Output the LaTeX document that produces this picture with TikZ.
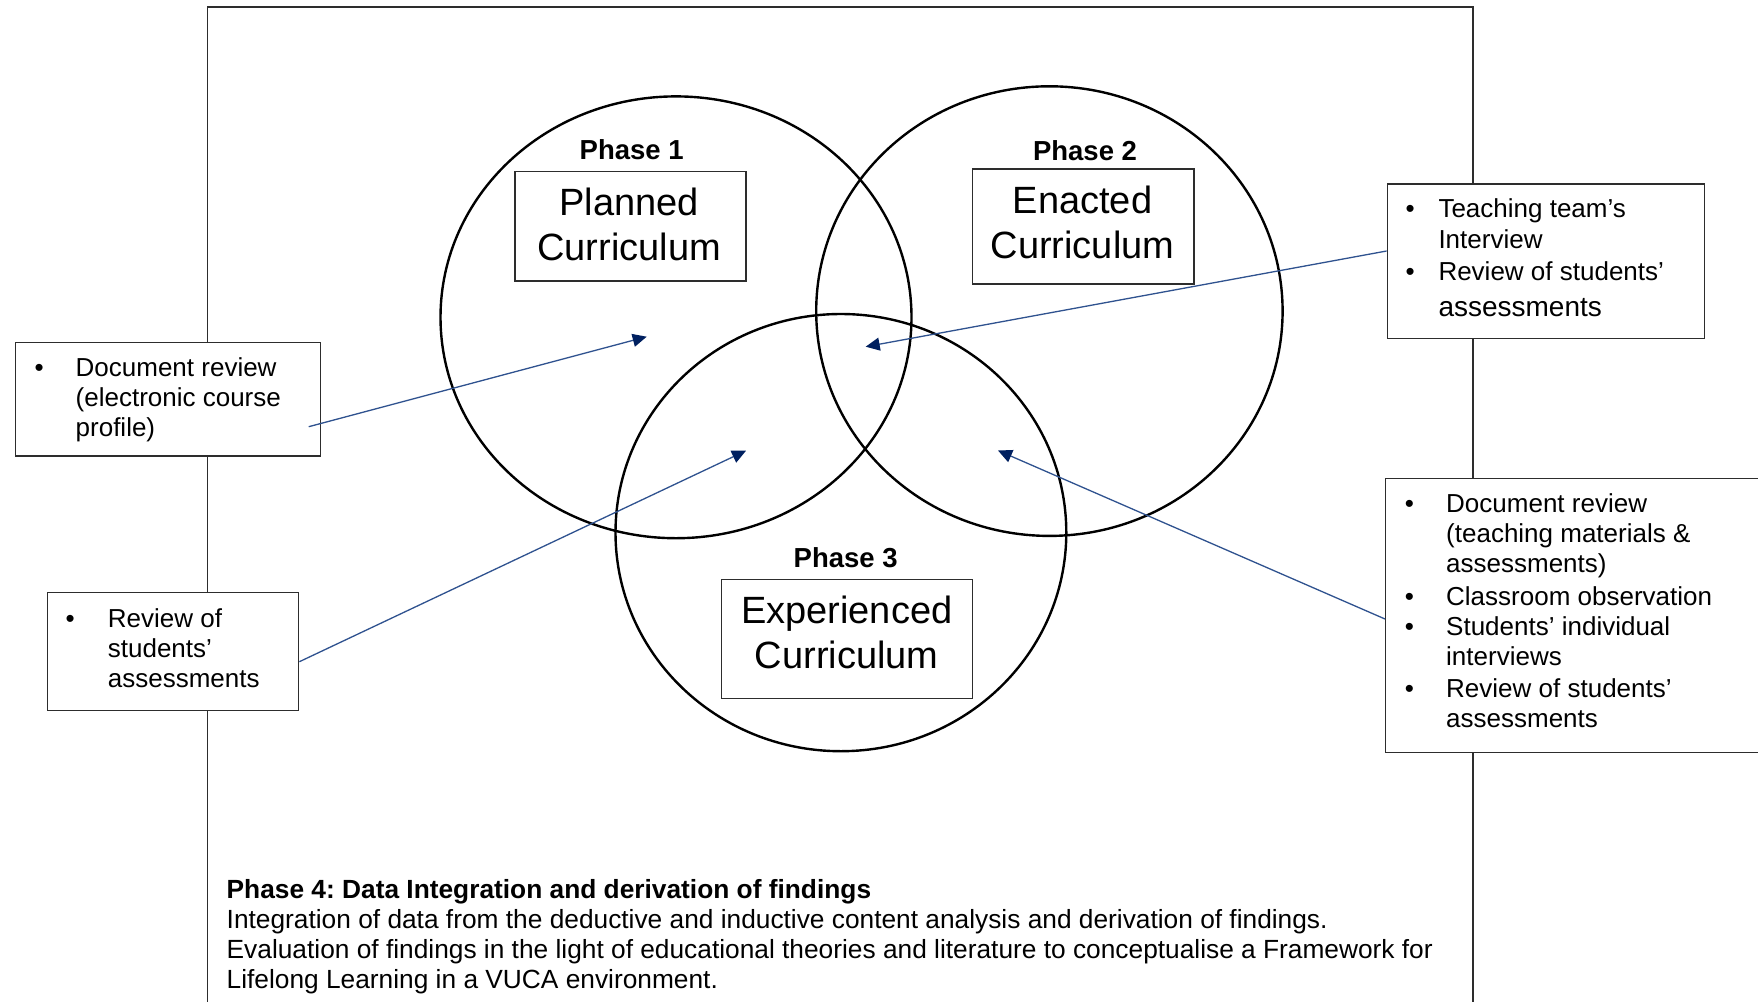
\documentclass[tikz,border=0pt]{standalone}
\usepackage{fontspec}
\setmainfont{Liberation Sans}
\usetikzlibrary{arrows.meta,shapes.geometric}
\definecolor{navy}{RGB}{0,32,96}
\definecolor{arrline}{RGB}{47,82,143}
\definecolor{boxline}{RGB}{45,45,45}
\frenchspacing
\begin{document}
\begin{tikzpicture}[x=1pt,y=-1pt,
  circ/.style={ellipse, draw=black, line width=2.4pt, inner sep=0pt, outer sep=0pt},
  bigbox/.style={draw=boxline, line width=1.4pt, fill=white, inner sep=0pt},
  listbox/.style={draw=boxline, line width=1.4pt, fill=white, inner sep=0pt},
  phase/.style={font=\fontsize{27.5}{33}\selectfont\bfseries, inner sep=0pt, anchor=base},
  bigtxt/.style={font=\fontsize{38}{45}\selectfont, inner sep=0pt, anchor=base},
  listtxt/.style={font=\fontsize{26}{30}\selectfont, inner sep=0pt, anchor=base west},
  bottomtxt/.style={font=\fontsize{26.3}{30.2}\selectfont, inner sep=0pt, anchor=base west},
  conn/.style={draw=arrline, line width=1.3pt, -{Triangle[length=14pt,width=13pt,color=navy]}}
]
\useasboundingbox (0,0) rectangle (1758,1001);
\clip (0,0) rectangle (1758,1001);
\fill[white] (0,0) rectangle (1758,1001);

% outer frame (open at the bottom)
\draw[line width=1.4pt, draw=boxline] (207.5,1010) -- (207.5,7) -- (1473,7) -- (1473,1010);

% circles
\node[circ, minimum width=471pt, minimum height=441.8pt] (c1) at (676,317.3) {};
\node[circ, minimum width=466.4pt, minimum height=449.6pt] (c2) at (1049.4,311.1) {};
\node[circ, minimum width=450.8pt, minimum height=437.2pt] (c3) at (840.9,532.6) {};

% phase labels
\node[phase] (p1) at (631.7,159.3) {Phase 1};
\node[phase] (p2) at (1085,160.7) {Phase 2};
\node[phase] (p3) at (845.7,567.7) {Phase 3};

% curriculum boxes
\node[bigbox, minimum width=231pt, minimum height=109.3pt] (b1) at (630.5,226.3) {};
\node[bigtxt] (t1) at (629,215) {\begin{tabular}[t]{@{}c@{}}Planned\\Curriculum\end{tabular}};
\node[bigbox, minimum width=221.7pt, minimum height=115pt] (b2) at (1083.2,226.5) {};
\node[bigtxt] (t2) at (1082.5,213.7) {\begin{tabular}[t]{@{}c@{}}Enacted\\Curriculum\end{tabular}};
\node[bigbox, minimum width=251pt, minimum height=119pt] (b3) at (847.2,638.8) {};
\node[bigtxt] (t3) at (846.7,623.3) {\begin{tabular}[t]{@{}c@{}}Experienced\\Curriculum\end{tabular}};

% side boxes
\node[listbox, minimum width=304.8pt, minimum height=113.3pt] (lb1) at (168,399.35) {};
\node[listtxt] (lt1) at (34.3,376.7) {\begin{tabular}[t]{@{}p{41.2pt}@{}l@{}}
•&Document review\\
&(electronic course\\
&profile)\end{tabular}};

\node[listbox, minimum width=251.4pt, minimum height=118pt] (lb2) at (173,651.7) {};
\node[listtxt] (lt2) at (65.5,627.2) {\begin{tabular}[t]{@{}p{42.2pt}@{}l@{}}
•&Review of\\
&students’\\
&assessments\end{tabular}};

\node[listbox, minimum width=317pt, minimum height=154.3pt] (rb1) at (1545.8,261.15) {};
\node[listtxt] (rt1) at (1405.5,217.5) {\begin{tabular}[t]{@{}p{32.8pt}@{}l@{}}
•&Teaching team’s\\[0.6pt]
&Interview\\[2.7pt]
•&Review of students’\\[5.7pt]
&{\fontsize{28}{30}\selectfont assessments}\end{tabular}};

\node[listbox, minimum width=414.3pt, minimum height=274.4pt] (rb2) at (1592.85,615.5) {};
\node[listtxt] (rt2) at (1404.75,512.5) {\begin{tabular}[t]{@{}p{41.25pt}@{}l@{}}
•&Document review\\
&(teaching materials \&\\
&assessments)\\[3.3pt]
•&Classroom observation\\
•&Students’ individual\\
&interviews\\[1.7pt]
•&Review of students’\\
&assessments\end{tabular}};

% phase 4 text
\node[bottomtxt] (ph4) at (226.5,898) {\begin{tabular}[t]{@{}l@{}}
\textbf{Phase 4: Data Integration and derivation of findings}\\
Integration of data from the deductive and inductive content analysis and derivation of findings.\\
Evaluation of findings in the light of educational theories and literature to conceptualise a Framework for\\
Lifelong Learning in a VUCA environment.\end{tabular}};

% arrows
\coordinate (a1) at (646.7,336.7);
\coordinate (a2) at (865.7,346.7);
\coordinate (a3) at (746,450.7);
\coordinate (a4) at (998,450.5);
\draw[conn] ([xshift=-12.4pt,yshift=-27.35pt]lb1.east) -- (a1);
\draw[conn] ([yshift=10.15pt]rb1.west) -- (a2);
\draw[conn] ([yshift=-10pt]lb2.east) -- (a3);
\draw[conn] ([yshift=-3.5pt]rb2.west) -- (a4);
\end{tikzpicture}
\end{document}
